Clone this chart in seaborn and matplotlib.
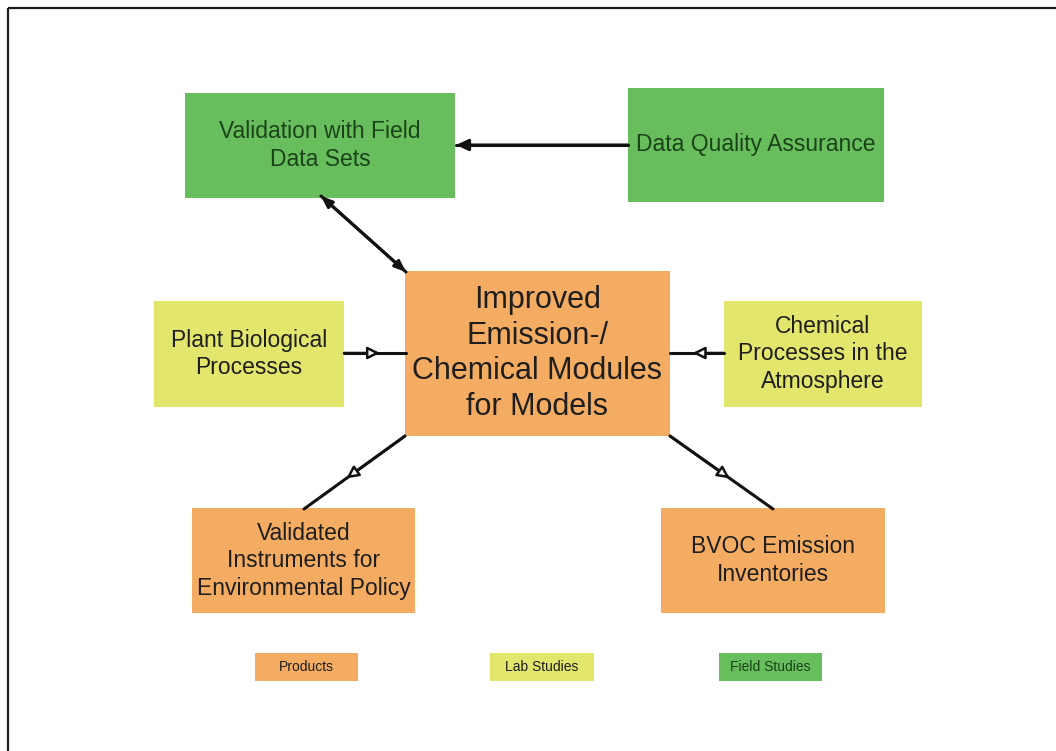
import matplotlib
matplotlib.use("Agg")
import matplotlib.pyplot as plt
from matplotlib.patches import Rectangle
import pandas as pd
import seaborn as sns

# ---- content ----
box_labels = [
    "Validation with Field\nData Sets",
    "Data Quality Assurance",
    "Improved\nEmission-/\nChemical Modules\nfor Models",
    "Plant Biological\nProcesses",
    "Chemical\nProcesses in the\nAtmosphere",
    "Validated\nInstruments for\nEnvironmental Policy",
    "BVOC Emission\nInventories",
]
box_kind = ["field", "field", "product", "lab", "lab", "product", "product"]
legend_labels = ["Products", "Lab Studies", "Field Studies"]
legend_kind = ["product", "lab", "field"]

# ---- layout (pixels, y downward) ----
box_xy = [  # x0, x1, y0, y1
    (185, 455, 93, 198),
    (628, 884, 88, 202),
    (405, 670, 271, 436),
    (154, 344, 301, 407),
    (724, 922, 301, 407),
    (192, 415, 508, 613),
    (661, 885, 508, 613),
]
box_fs = [16.5, 16.5, 22, 16.5, 16.5, 16.5, 16.5]
box_ls = [1.25, 1.25, 1.24, 1.25, 1.25, 1.25, 1.25]
legend_xy = [(255, 358), (490, 594), (719, 822)]
legend_y = (653, 681)

fill = {"product": "#f4ac63", "lab": "#e2e66c", "field": "#68bd5c"}
tcol = {"product": "#1e1e1e", "lab": "#1e1e1e", "field": "#1a431a"}

sns.set_theme(style="white")
plt.rcParams["font.family"] = ["Liberation Sans", "DejaVu Sans"]

fig = plt.figure(figsize=(10.56, 7.51), dpi=100)
ax = fig.add_axes([0, 0, 1, 1])

# connectors: start, end, kind
conn = [
    ((628, 145), (456, 145), "head"),
    ((321, 196), (406, 272), "double"),
    ((344, 353), (406, 353), "mid"),
    ((724, 353), (670, 353), "mid"),
    ((405, 436), (304, 509), "mid"),
    ((670, 436), (773, 509), "mid"),
]
rows = []
for i, (a, b, _) in enumerate(conn):
    rows.append({"id": i, "x": a[0], "y": a[1]})
    rows.append({"id": i, "x": b[0], "y": b[1]})
df = pd.DataFrame(rows)
sns.lineplot(data=df, x="x", y="y", units="id", estimator=None, sort=False,
             color="#111111", lw=2.2, ax=ax, legend=False, zorder=2)

ax.set_xlim(0, 1056)
ax.set_ylim(751, 0)
ax.axis("off")

# frame (top and left lines)
ax.plot([7.5, 1056], [7.5, 7.5], color="#1e1e1e", lw=1.6, solid_capstyle="butt")
ax.plot([7.5, 7.5], [7.5, 751], color="#1e1e1e", lw=1.6, solid_capstyle="butt")

for (x0, x1, y0, y1), lab, k, fs, ls in zip(box_xy, box_labels, box_kind, box_fs, box_ls):
    ax.add_patch(Rectangle((x0, y0), x1 - x0, y1 - y0, facecolor=fill[k],
                           edgecolor="none", zorder=1))
    ax.text((x0 + x1) / 2, (y0 + y1) / 2, lab, ha="center", va="center",
            fontsize=fs, color=tcol[k], linespacing=ls, zorder=4)

for (x0, x1), lab, k in zip(legend_xy, legend_labels, legend_kind):
    y0, y1 = legend_y
    ax.add_patch(Rectangle((x0, y0), x1 - x0, y1 - y0, facecolor=fill[k],
                           edgecolor="none", zorder=1))
    ax.text((x0 + x1) / 2, (y0 + y1) / 2, lab, ha="center", va="center",
            fontsize=10, color=tcol[k], zorder=4)

for a, b, kind in conn:
    if kind == "head":
        ax.annotate("", xy=b, xytext=a,
                    arrowprops=dict(arrowstyle="-|>,head_length=0.6,head_width=0.28",
                                    color="#111111", lw=2.2, shrinkA=0, shrinkB=0),
                    zorder=3)
    elif kind == "double":
        ax.annotate("", xy=b, xytext=a,
                    arrowprops=dict(arrowstyle="<|-|>,head_length=0.55,head_width=0.22",
                                    color="#111111", lw=2.2, shrinkA=0, shrinkB=0),
                    zorder=3)
    else:
        mid = ((a[0] + b[0]) / 2 + (b[0] - a[0]) * 0.08,
               (a[1] + b[1]) / 2 + (b[1] - a[1]) * 0.08)
        ax.annotate("", xy=mid, xytext=a,
                    arrowprops=dict(arrowstyle="-|>,head_length=0.6,head_width=0.3",
                                    facecolor="white", edgecolor="#111111", lw=1.8,
                                    shrinkA=0, shrinkB=0),
                    zorder=3)

fig.savefig("out.png", dpi=100, facecolor="white")
